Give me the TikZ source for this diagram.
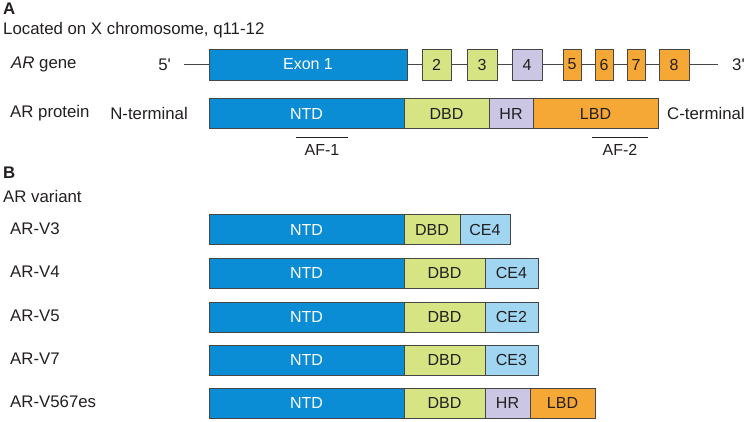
\documentclass[tikz,border=0pt]{standalone}
\usepackage{fontspec}
\setmainfont{Liberation Sans}
\usepackage{tikz}
\usetikzlibrary{positioning}
\definecolor{ntdblue}{RGB}{11,141,214}
\definecolor{dbdgreen}{RGB}{214,228,131}
\definecolor{hrlilac}{RGB}{202,198,227}
\definecolor{lbdorange}{RGB}{245,168,54}
\definecolor{cecyan}{RGB}{160,214,242}
\definecolor{edgegray}{RGB}{70,70,70}
\definecolor{txtgray}{RGB}{35,31,32}
\tikzset{
  lbl/.style={anchor=west, inner sep=0pt, text=txtgray, font=\fontsize{16.8}{20}\selectfont},
  dombox/.style={draw=edgegray, line width=1pt, inner sep=0pt, outer sep=0pt, minimum height=30, anchor=west, text=txtgray, font=\fontsize{16}{19}\selectfont},
  ntdbox/.style={dombox, fill=ntdblue, text=white},
  dbdbox/.style={dombox, fill=dbdgreen},
  hrbox/.style={dombox, fill=hrlilac},
  lbdbox/.style={dombox, fill=lbdorange},
  cebox/.style={dombox, fill=cecyan},
  afbar/.style={inner xsep=0pt, inner ysep=6pt, minimum width=52, text height=11.5, text depth=0, text=txtgray, font=\fontsize{16}{19}\selectfont},
}
\begin{document}
\begin{tikzpicture}[x=1pt,y=-1pt]
\useasboundingbox (0,0) rectangle (747,421);
% panel A
\node[lbl, font=\bfseries\fontsize{16.8}{20}\selectfont] (pa) at (3,9) {A};
\node[lbl] (loc) at (3,30) {Located on X chromosome, q11-12};
\node[lbl] (gene) at (11,64.5) {\textit{AR} gene};
\node[lbl] (prot) at (10,113.5) {AR protein};
% gene
\node[lbl, anchor=east] (five) at (171,64.5) {5\textquotesingle};
\node[lbl] (three) at (732,64.5) {3\textquotesingle};
\coordinate (gs) at (184,64.5);
\coordinate (ge) at (718,64.5);
\node[ntdbox, minimum width=198, minimum height=31] (ex1) at (209,64.5) {Exon 1};
\node[dbdbox, minimum width=29, minimum height=31] (ex2) at (422,64.5) {2};
\node[dbdbox, minimum width=30, minimum height=31] (ex3) at (467,64.5) {3};
\node[hrbox, minimum width=30, minimum height=31] (ex4) at (512,64.5) {4};
\node[lbdbox, minimum width=18, minimum height=31] (ex5) at (563,64.5) {5};
\node[lbdbox, minimum width=18, minimum height=31] (ex6) at (595,64.5) {6};
\node[lbdbox, minimum width=18, minimum height=31] (ex7) at (627,64.5) {7};
\node[lbdbox, minimum width=30, minimum height=31] (ex8) at (659,64.5) {8};
\draw[edgegray, line width=1pt] (gs) -- (ex1) (ex1) -- (ex2) (ex2) -- (ex3) (ex3) -- (ex4)
  (ex4) -- (ex5) (ex5) -- (ex6) (ex6) -- (ex7) (ex7) -- (ex8) (ex8) -- (ge);
% protein
\node[lbl, anchor=east] (nterm) at (188,113.5) {N-terminal};
\node[ntdbox, minimum width=195] (ntdP) at (209,113.5) {NTD};
\node[dbdbox, minimum width=85, right=0pt of ntdP] (dbdP) {DBD};
\node[hrbox, minimum width=44, right=0pt of dbdP] (hrP) {HR};
\node[lbdbox, minimum width=125, right=0pt of hrP] (lbdP) {LBD};
\node[lbl] (cterm) at (667,113.5) {C-terminal};
\node[afbar] (af1) at (322,149.5) {AF-1};
\node[afbar, minimum width=56] (af2) at (620,149.5) {AF-2};
\draw[txtgray, line width=1pt] (af1.north west) -- (af1.north east) (af2.north west) -- (af2.north east);
% panel B
\node[lbl, font=\bfseries\fontsize{16.8}{20}\selectfont] (pb) at (3,172.5) {B};
\node[lbl] (var) at (3,196) {AR variant};
\node[lbl] (lv3) at (10,228.5) {AR-V3};
\node[ntdbox, minimum width=195] (ntd3) at (209,229.5) {NTD};
\node[dbdbox, minimum width=56, right=0pt of ntd3] (dbd3) {DBD};
\node[cebox, minimum width=50, right=0pt of dbd3] (ce3) {CE4};
\foreach \v/\ce/\y in {4/CE4/273, 5/CE2/317, 7/CE3/360}{
  \node[lbl] (lv\v) at (10,\y-1) {AR-V\v};
  \node[ntdbox, minimum width=195] (ntd\v) at (209,\y) {NTD};
  \node[dbdbox, minimum width=81, right=0pt of ntd\v] (dbd\v) {DBD};
  \node[cebox, minimum width=53, right=0pt of dbd\v] (ce\v) {\ce};
}
\node[lbl] (lves) at (10,402) {AR-V567es};
\node[ntdbox, minimum width=195] (ntdes) at (209,403) {NTD};
\node[dbdbox, minimum width=81, right=0pt of ntdes] (dbdes) {DBD};
\node[hrbox, minimum width=45, right=0pt of dbdes] (hres) {HR};
\node[lbdbox, minimum width=65, right=0pt of hres] (lbdes) {LBD};
\end{tikzpicture}
\end{document}
